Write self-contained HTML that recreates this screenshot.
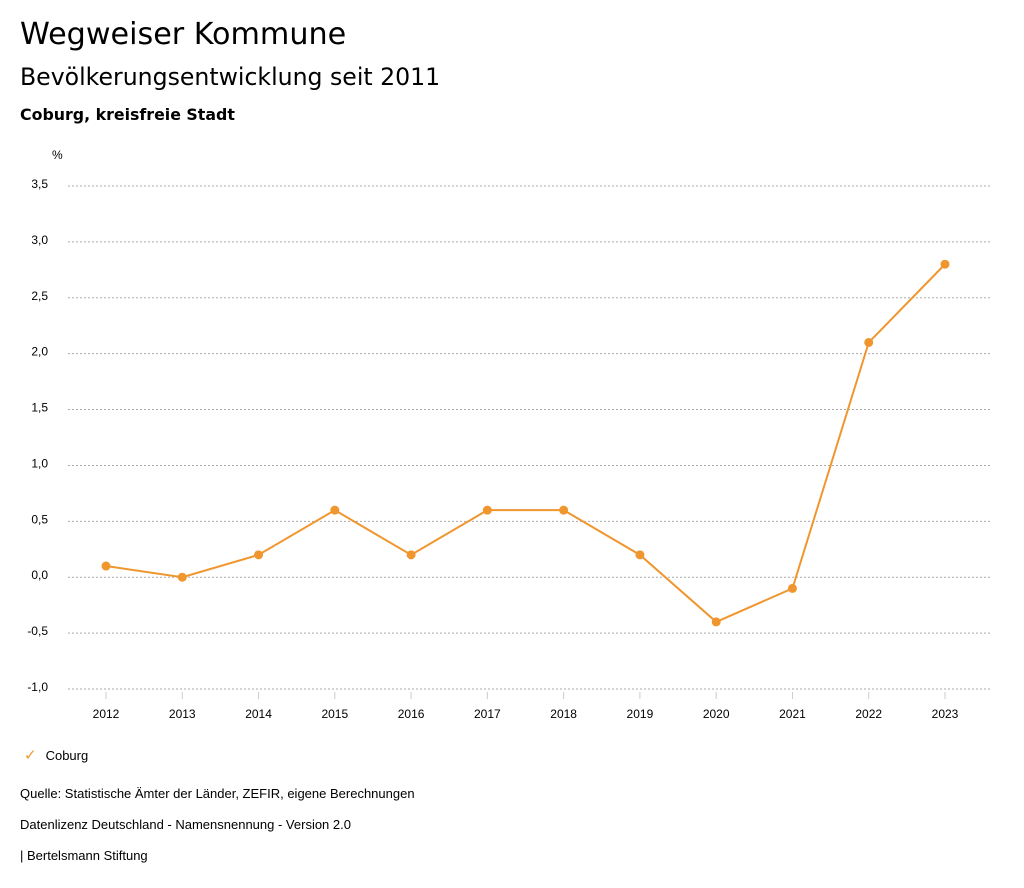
<!DOCTYPE html>
<html><head><meta charset="utf-8"><style>
body{margin:0;width:1024px;height:888px;background:#fff;font-family:"Liberation Sans",sans-serif;color:#000;overflow:hidden;position:relative}
.t{position:absolute;left:20px;white-space:nowrap}
</style></head><body>
<div class="t" style="top:17px;font-size:30.2px;font-family:'DejaVu Sans',sans-serif">Wegweiser Kommune</div>
<div class="t" style="top:63px;font-size:23.6px;font-family:'DejaVu Sans',sans-serif">Bevölkerungsentwicklung seit 2011</div>
<div class="t" style="top:105px;font-size:15.8px;font-weight:bold;font-family:'DejaVu Sans',sans-serif">Coburg, kreisfreie Stadt</div>
<svg id="chart" width="1024" height="888" style="position:absolute;left:0;top:0" font-family="Liberation Sans, sans-serif"></svg>
<div class="t" style="top:746px;font-size:13px;left:24px"><span style="color:#f0962e;font-size:15px">✓</span><span style="margin-left:9px">Coburg</span></div>
<div class="t" style="top:786px;font-size:13px">Quelle: Statistische Ämter der Länder, ZEFIR, eigene Berechnungen</div>
<div class="t" style="top:817px;font-size:13px">Datenlizenz Deutschland - Namensnennung - Version 2.0</div>
<div class="t" style="top:848px;font-size:13px">| Bertelsmann Stiftung</div>
<script>
const years=["2012","2013","2014","2015","2016","2017","2018","2019","2020","2021","2022","2023"];
const values=[0.1,0.0,0.2,0.6,0.2,0.6,0.6,0.2,-0.4,-0.1,2.1,2.8];
const yTicks=[-1.0,-0.5,0.0,0.5,1.0,1.5,2.0,2.5,3.0,3.5];
const ns="http://www.w3.org/2000/svg",svg=document.getElementById('chart');
const y=v=>689-(v+1)*(503/4.5);
const x=i=>106+i*(839/11);
function el(t,a){const e=document.createElementNS(ns,t);for(const k in a)e.setAttribute(k,a[k]);svg.appendChild(e);return e;}
let u=el('text',{x:52,y:159,'font-size':12});u.textContent='%';


yTicks.forEach(v=>{
 const l=el('line',{x1:68,x2:990,y1:y(v),y2:y(v),stroke:'#aaa','stroke-dasharray':'2,2','stroke-width':1});
 
 
 const t=el('text',{x:48,y:y(v)+2,'font-size':12,'text-anchor':'end'});t.textContent=v.toFixed(1).replace('.',',');
 
 
});
years.forEach((yr,i)=>{
 const l=el('line',{x1:x(i),x2:x(i),y1:692,y2:699,stroke:'#ccc'});
 
 
 const t=el('text',{x:x(i),y:718,'font-size':12,'text-anchor':'middle'});t.textContent=yr;
 
 
});
const p=el('polyline',{points:values.map((v,i)=>x(i)+','+y(v)).join(' '),fill:'none',stroke:'#f0962e','stroke-width':2});


values.forEach((v,i)=>{
 const c=el('circle',{cx:x(i),cy:y(v),r:4.5,fill:'#f0962e'});
 
 
});
</script>
</body></html>
